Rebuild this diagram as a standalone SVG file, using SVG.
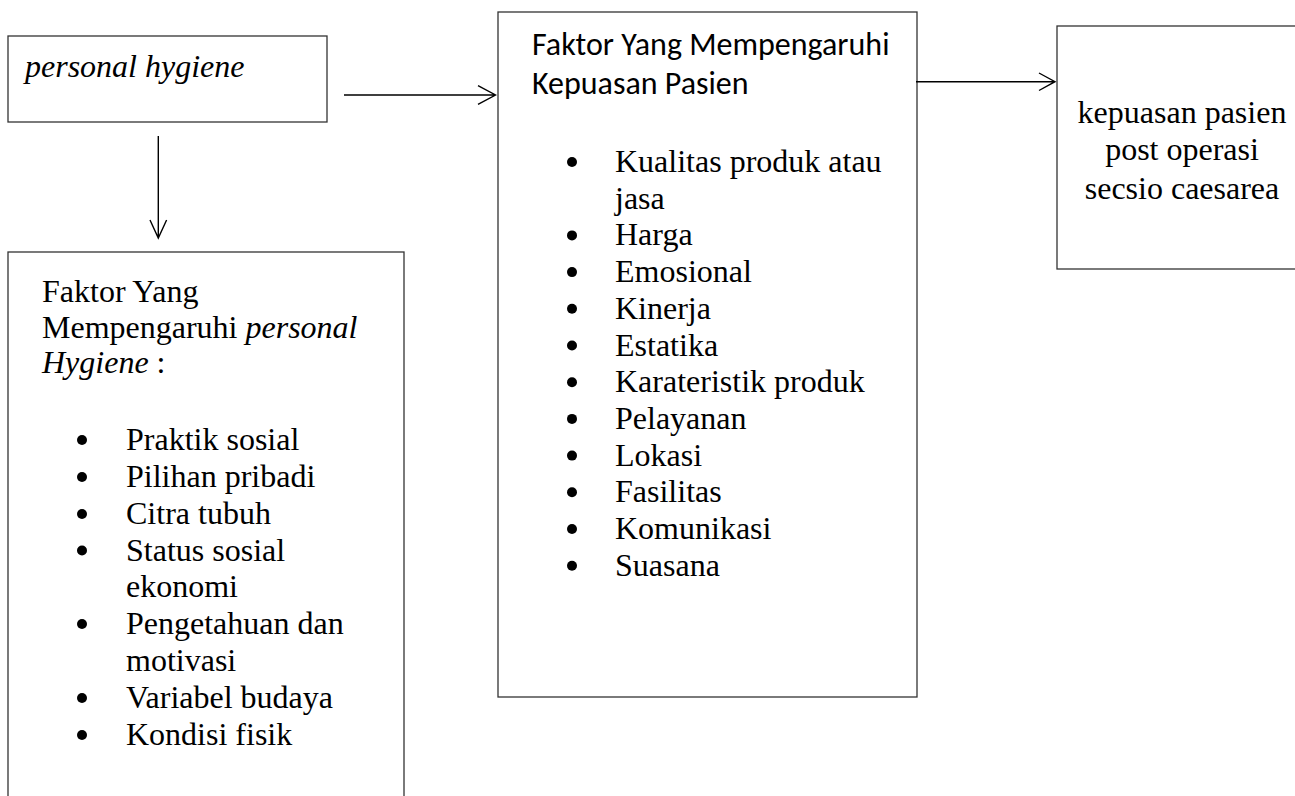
<svg xmlns="http://www.w3.org/2000/svg" width="1295" height="796" viewBox="0 0 1295 796">
<style>
.box{fill:#fff;stroke:#333;stroke-width:1.3}
.t{font-family:"Liberation Serif","Times New Roman",serif;font-size:32px;fill:#000}
.i{font-style:italic}
.s{font-family:Carlito,Lato,"Liberation Sans",sans-serif;font-size:32px;fill:#000}
.c{fill:none;stroke:#000;stroke-width:1.4}
.b{fill:#000}
</style>
<rect width="1295" height="796" fill="#fff"/>
<g id="node-personal-hygiene">
<rect class="box" x="8" y="36" width="319" height="86"/>
<text class="t i" x="25" y="77">personal hygiene</text>
</g>
<g id="node-faktor-hygiene">
<rect class="box" x="8" y="252" width="396" height="560"/>
<text class="t" x="42" y="302">Faktor Yang</text>
<text class="t" x="42" y="338">Mempengaruhi <tspan class="i">personal</tspan></text>
<text class="t" x="42" y="373"><tspan class="i">Hygiene</tspan> :</text>
<g class="b">
<circle cx="82" cy="440" r="5"/>
<circle cx="82" cy="477" r="5"/>
<circle cx="82" cy="514" r="5"/>
<circle cx="82" cy="550.5" r="5"/>
<circle cx="82" cy="624" r="5"/>
<circle cx="82" cy="698" r="5"/>
<circle cx="82" cy="735" r="5"/>
</g>
<text class="t" x="126" y="450">Praktik sosial</text>
<text class="t" x="126" y="487">Pilihan pribadi</text>
<text class="t" x="126" y="524">Citra tubuh</text>
<text class="t" x="126" y="560.5">Status sosial</text>
<text class="t" x="126" y="597">ekonomi</text>
<text class="t" x="126" y="634">Pengetahuan dan</text>
<text class="t" x="126" y="671">motivasi</text>
<text class="t" x="126" y="708">Variabel budaya</text>
<text class="t" x="126" y="745">Kondisi fisik</text>
</g>
<g id="node-faktor-kepuasan">
<rect class="box" x="498" y="12" width="419" height="685"/>
<text class="s" x="532" y="55">Faktor Yang Mempengaruhi</text>
<text class="s" x="532" y="94">Kepuasan Pasien</text>
<g class="b">
<circle cx="572" cy="162" r="5"/>
<circle cx="572" cy="235.4" r="5"/>
<circle cx="572" cy="272.1" r="5"/>
<circle cx="572" cy="308.8" r="5"/>
<circle cx="572" cy="345.5" r="5"/>
<circle cx="572" cy="382.2" r="5"/>
<circle cx="572" cy="418.9" r="5"/>
<circle cx="572" cy="455.6" r="5"/>
<circle cx="572" cy="492.3" r="5"/>
<circle cx="572" cy="529" r="5"/>
<circle cx="572" cy="565.7" r="5"/>
</g>
<text class="t" x="615" y="172">Kualitas produk atau</text>
<text class="t" x="615" y="208.7">jasa</text>
<text class="t" x="615" y="245.4">Harga</text>
<text class="t" x="615" y="282.1">Emosional</text>
<text class="t" x="615" y="318.8">Kinerja</text>
<text class="t" x="615" y="355.5">Estatika</text>
<text class="t" x="615" y="392.2">Karateristik produk</text>
<text class="t" x="615" y="428.9">Pelayanan</text>
<text class="t" x="615" y="465.6">Lokasi</text>
<text class="t" x="615" y="502.3">Fasilitas</text>
<text class="t" x="615" y="539">Komunikasi</text>
<text class="t" x="615" y="575.7">Suasana</text>
</g>
<g id="node-kepuasan-pasien">
<rect class="box" x="1057" y="26" width="260" height="243"/>
<text class="t" x="1182" y="123" text-anchor="middle">kepuasan pasien</text>
<text class="t" x="1182" y="160" text-anchor="middle">post operasi</text>
<text class="t" x="1182" y="199" text-anchor="middle">secsio caesarea</text>
</g>
<g id="connectors">
<path class="c" d="M344 95H495.5M478 85.7L495.5 95L478 104.3"/>
<path class="c" d="M158.3 136V238M150 220L158.3 238L166.6 220"/>
<path class="c" d="M916 81.7H1055M1039 73L1055 81.7L1039 90.5"/>
</g>
</svg>
